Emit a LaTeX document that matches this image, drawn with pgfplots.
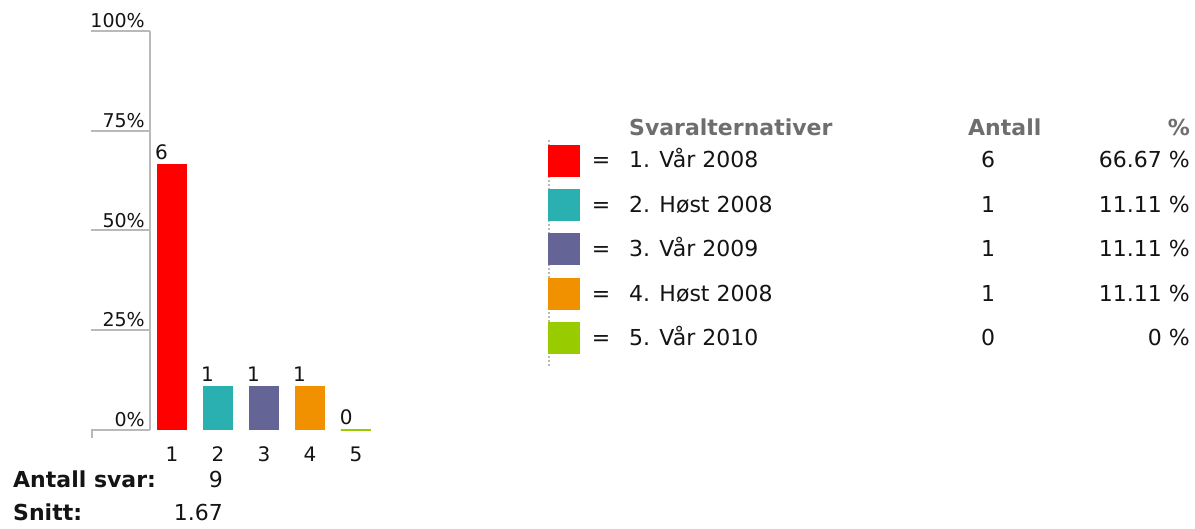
\documentclass[border=0pt]{standalone}
\usepackage{pgfplots}
\pgfplotsset{compat=1.18}
\usepackage{fontspec}
\setmainfont{DejaVu Sans}
\definecolor{cred}{HTML}{FF0000}
\definecolor{cteal}{HTML}{2AB0B0}
\definecolor{cpurp}{HTML}{646496}
\definecolor{corng}{HTML}{F29100}
\definecolor{cgrn}{HTML}{99CC00}
\definecolor{axgray}{RGB}{185,185,185}
\definecolor{hgray}{RGB}{110,110,110}
\definecolor{txt}{RGB}{20,20,20}
\newcommand{\fs}[1]{\fontsize{#1}{#1}\selectfont}
\tikzset{t/.style={inner sep=0pt, font=\fs{22}, text=txt}}
\newcommand{\legrow}[4]{%
  \node[t, anchor=base] at (axis cs:601,#1) {=};
  \node[t, anchor=base west] at (axis cs:629,#1) {#2};
  \node[t, anchor=base] at (axis cs:988,#1) {#3};
  \node[t, anchor=base east] at (axis cs:1190,#1) {#4\ \%};
}
\begin{document}
\begin{tikzpicture}
\useasboundingbox (0,0) rectangle (1195pt,529pt);
% overlay axis in pixel coordinates (y downwards)
\begin{axis}[at={(0pt,0pt)}, anchor=south west, scale only axis,
  width=1195pt, height=529pt, xmin=0, xmax=1195, ymin=0, ymax=529,
  y dir=reverse, hide axis, clip=false]
\addplot[draw=axgray, dotted, line width=2pt] coordinates {(549,140) (549,366)};
\addplot[draw=axgray, line width=2pt] coordinates {(92,429) (92,438)};
\addplot[only marks, mark=square*, mark size=15.5pt, color=cred] coordinates {(564,160.5)};
\addplot[only marks, mark=square*, mark size=15.5pt, color=cteal] coordinates {(564,205)};
\addplot[only marks, mark=square*, mark size=15.5pt, color=cpurp] coordinates {(564,249)};
\addplot[only marks, mark=square*, mark size=15.5pt, color=corng] coordinates {(564,294)};
\addplot[only marks, mark=square*, mark size=15.5pt, color=cgrn] coordinates {(564,338)};
% header
\node[t, anchor=base west, text=hgray, font=\fs{22}\bfseries] at (axis cs:629,136) {Svaralternativer};
\node[t, anchor=base west, text=hgray, font=\fs{22}\bfseries] at (axis cs:968,136) {Antall};
\node[t, anchor=base east, text=hgray, font=\fs{22}\bfseries] at (axis cs:1190,136) {\%};
% rows
\legrow{168}{1. Vår 2008}{6}{66.67}
\legrow{213}{2. Høst 2008}{1}{11.11}
\legrow{257}{3. Vår 2009}{1}{11.11}
\legrow{302}{4. Høst 2008}{1}{11.11}
\legrow{346}{5. Vår 2010}{0}{0}
% bottom
\node[t, anchor=base west, font=\fs{22}\bfseries] at (axis cs:13,487) {Antall svar:};
\node[t, anchor=base east] at (axis cs:223,487) {9};
\node[t, anchor=base west, font=\fs{22}\bfseries] at (axis cs:13,520) {Snitt:};
\node[t, anchor=base east] at (axis cs:223,520) {1.67};
\end{axis}
% bar chart
\begin{axis}[at={(150pt,99pt)}, anchor=south west, scale only axis,
  width=233.6pt, height=399pt, xmin=0.52174, xmax=5.6, ymin=0, ymax=100,
  axis lines*=left, clip=false,
  x axis line style={draw=none}, y axis line style={draw=axgray, line width=2pt},
  xtick={1,2,3,4,5}, xticklabels={1,2,3,4,5}, xtick style={draw=none},
  ytick={0,25,50,75,100}, yticklabels={0\%,25\%,50\%,75\%,100\%},
  ytick style={draw=axgray, line width=2pt}, tick align=outside, major tick length=59pt,
  xticklabel style={font=\fs{20}, text=txt, anchor=base, yshift=28pt},
  yticklabel style={font=\fs{19}, text=txt, anchor=south east, inner sep=0pt, xshift=54pt, yshift=3pt},
  ybar, bar width=30pt, bar shift=0pt,
  nodes near coords, point meta=explicit symbolic,
  every node near coord/.style={font=\fs{20}, text=txt, anchor=south west, inner sep=0pt, xshift=-17pt, yshift=4pt},
]
\addplot[fill=cred, draw=none] coordinates {(1,66.67) [6]};
\addplot[fill=cteal, draw=none] coordinates {(2,11.11) [1]};
\addplot[fill=cpurp, draw=none] coordinates {(3,11.11) [1]};
\addplot[fill=corng, draw=none] coordinates {(4,11.11) [1]};
\addplot[fill=cgrn, draw=cgrn, line width=2pt] coordinates {(5,0) [0]};
\end{axis}
\end{tikzpicture}
\end{document}
